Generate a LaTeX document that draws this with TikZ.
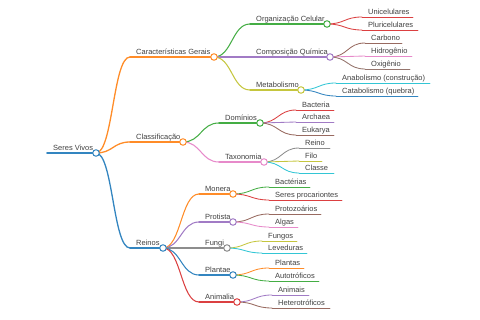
\documentclass[tikz,border=0pt]{standalone}
\usepackage{fontspec}
\setmainfont{Liberation Sans}
\usetikzlibrary{calc}
\definecolor{cBlue}{HTML}{3385C0}
\definecolor{cOrange}{HTML}{FF8C28}
\definecolor{cGreen}{HTML}{44AD44}
\definecolor{cRed}{HTML}{DB4041}
\definecolor{cPurple}{HTML}{A17BC5}
\definecolor{cBrown}{HTML}{986A60}
\definecolor{cPink}{HTML}{E78ACA}
\definecolor{cGray}{HTML}{8D8D8D}
\definecolor{cOlive}{HTML}{C5C63E}
\definecolor{cCyan}{HTML}{33C6D5}
\definecolor{txt}{HTML}{404040}
\tikzset{
  lbl/.style={anchor=base west, inner sep=0pt, font=\fontsize{7.5}{9}\selectfont, text=txt},
  w0/.style={line width=1.8pt, line cap=round},
  w1/.style={line width=1.3pt, line cap=round},
  w2/.style={line width=1.05pt, line cap=round},
  w3/.style={line width=0.85pt, line cap=round},
  knob/.style={circle, draw=#1, fill=white, line width=1pt, minimum size=6.5pt, inner sep=0pt},
}
% name, start x, end x, y, colour, text, width style
\newcommand\mmn[7]{%
  \coordinate (#1-s) at (#2,#4);
  \coordinate (#1-e) at (#3,#4);
  \draw[#5,#7] (#1-s) -- (#1-e);
  \node[lbl] (#1) at ([xshift=6pt,yshift=2.6pt]#1-s) {#6};
}
% parent, child, style
\newcommand\mlk[3]{%
  \path ($(#1-e)!0.5!(#2-s)$) coordinate (mid);
  \draw[#3] (#1-e) .. controls (mid |- #1-e) and (mid |- #2-s) .. (#2-s);
}
\begin{document}
\begin{tikzpicture}[x=1pt,y=-1pt]
\useasboundingbox (0,0) rectangle (480,320);
% root
\mmn{sv}{47}{96}{153}{cBlue}{Seres Vivos}{w0}
% level 1
\mmn{cg}{130}{214}{57}{cOrange}{Características Gerais}{w1}
\mmn{cl}{130}{183}{142}{cOrange}{Classificação}{w1}
\mmn{re}{130}{163}{248}{cBlue}{Reinos}{w1}
\mlk{sv}{cg}{cOrange,w1}
\mlk{sv}{cl}{cOrange,w1}
\mlk{sv}{re}{cBlue,w1}
% level 2: Caracteristicas Gerais
\mmn{oc}{250}{327}{24}{cGreen}{Organização Celular}{w2}
\mmn{cq}{250}{330}{57}{cPurple}{Composição Química}{w2}
\mmn{me}{250}{301}{90}{cOlive}{Metabolismo}{w2}
\mlk{cg}{oc}{cGreen,w2}
\mlk{cg}{cq}{cPurple,w2}
\mlk{cg}{me}{cOlive,w2}
% level 3
\mmn{un}{362}{413}{17}{cRed}{Unicelulares}{w3}
\mmn{pl}{362}{418}{30}{cRed}{Pluricelulares}{w3}
\mlk{oc}{un}{cRed,w3}
\mlk{oc}{pl}{cRed,w3}
\mmn{ca}{365}{402}{43}{cBrown}{Carbono}{w3}
\mmn{hi}{365}{412}{56}{cPink}{Hidrogênio}{w3}
\mmn{ox}{365}{410}{69}{cBrown!70!cGray}{Oxigênio}{w3}
\mlk{cq}{ca}{cBrown,w3}
\mlk{cq}{hi}{cPink,w3}
\mlk{cq}{ox}{cBrown!70!cGray,w3}
\mmn{an}{336}{430}{83}{cCyan}{Anabolismo (construção)}{w3}
\mmn{cb}{336}{418}{96}{cBlue}{Catabolismo (quebra)}{w3}
\mlk{me}{an}{cCyan,w3}
\mlk{me}{cb}{cBlue,w3}
% level 2: Classificacao
\mmn{do}{219}{260}{123}{cGreen}{Domínios}{w2}
\mmn{ta}{219}{264}{162}{cPink}{Taxonomia}{w2}
\mlk{cl}{do}{cGreen,w2}
\mlk{cl}{ta}{cPink,w2}
\mmn{ba}{296}{334}{110}{cRed}{Bacteria}{w3}
\mmn{ar}{296}{334}{122}{cPurple}{Archaea}{w3}
\mmn{eu}{296}{334}{135}{cBrown}{Eukarya}{w3}
\mlk{do}{ba}{cRed,w3}
\mlk{do}{ar}{cPurple,w3}
\mlk{do}{eu}{cBrown,w3}
\mmn{rn}{299}{330}{148}{cGray}{Reino}{w3}
\mmn{fi}{299}{322}{161}{cOlive}{Filo}{w3}
\mmn{cs}{299}{334}{173}{cCyan}{Classe}{w3}
\mlk{ta}{rn}{cGray,w3}
\mlk{ta}{fi}{cOlive,w3}
\mlk{ta}{cs}{cCyan,w3}
% level 2: Reinos
\mmn{mo}{199}{233}{194}{cOrange}{Monera}{w2}
\mmn{pr}{199}{233}{222}{cPurple}{Protista}{w2}
\mmn{fu}{199}{227}{248}{cGray}{Fungi}{w2}
\mmn{pa}{199}{233}{275}{cBlue}{Plantae}{w2}
\mmn{am}{199}{237}{302}{cRed}{Animalia}{w2}
\mlk{re}{mo}{cOrange,w2}
\mlk{re}{pr}{cPurple,w2}
\mlk{re}{fu}{cGray,w2}
\mlk{re}{pa}{cBlue,w2}
\mlk{re}{am}{cRed,w2}
\mmn{bt}{269}{310}{187}{cGreen}{Bactérias}{w3}
\mmn{sp}{269}{342}{200}{cRed}{Seres procariontes}{w3}
\mlk{mo}{bt}{cGreen,w3}
\mlk{mo}{sp}{cRed,w3}
\mmn{pz}{269}{321}{214}{cBrown}{Protozoários}{w3}
\mmn{al}{269}{298}{227}{cPink}{Algas}{w3}
\mlk{pr}{pz}{cBrown,w3}
\mlk{pr}{al}{cPink,w3}
\mmn{fg}{262}{297}{241}{cOlive}{Fungos}{w3}
\mmn{lv}{262}{307}{253}{cCyan}{Leveduras}{w3}
\mlk{fu}{fg}{cOlive,w3}
\mlk{fu}{lv}{cCyan,w3}
\mmn{pt}{269}{304}{268}{cOrange}{Plantas}{w3}
\mmn{au}{269}{319}{281}{cGreen}{Autotróficos}{w3}
\mlk{pa}{pt}{cOrange,w3}
\mlk{pa}{au}{cGreen,w3}
\mmn{ai}{272}{309}{295}{cPurple}{Animais}{w3}
\mmn{ht}{272}{330}{308}{cBrown}{Heterotróficos}{w3}
\mlk{am}{ai}{cPurple,w3}
\mlk{am}{ht}{cBrown,w3}
% knobs
\node[knob=cBlue] (sv-k) at (sv-e) {};
\node[knob=cOrange] (cg-k) at (cg-e) {};
\node[knob=cOrange] (cl-k) at (cl-e) {};
\node[knob=cBlue] (re-k) at (re-e) {};
\node[knob=cGreen] (oc-k) at (oc-e) {};
\node[knob=cPurple] (cq-k) at (cq-e) {};
\node[knob=cOlive] (me-k) at (me-e) {};
\node[knob=cGreen] (do-k) at (do-e) {};
\node[knob=cPink] (ta-k) at (ta-e) {};
\node[knob=cOrange] (mo-k) at (mo-e) {};
\node[knob=cPurple] (pr-k) at (pr-e) {};
\node[knob=cGray] (fu-k) at (fu-e) {};
\node[knob=cBlue] (pa-k) at (pa-e) {};
\node[knob=cRed] (am-k) at (am-e) {};
\end{tikzpicture}
\end{document}
